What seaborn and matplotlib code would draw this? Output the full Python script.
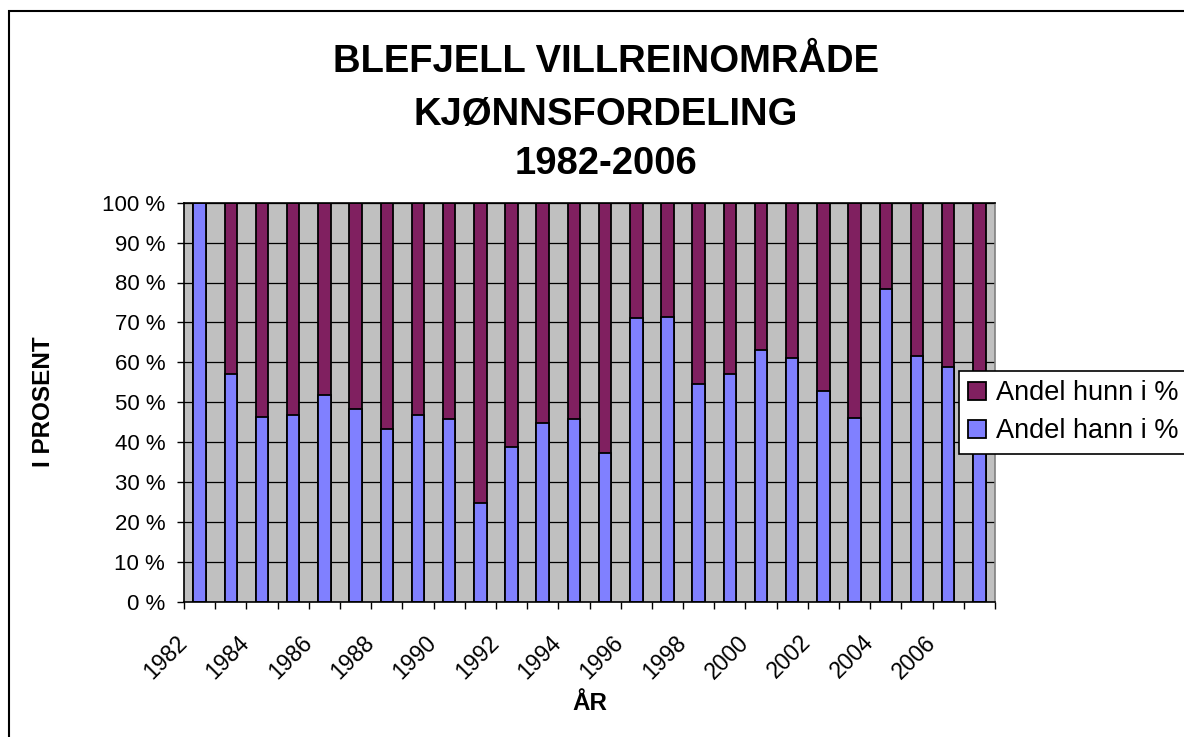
import matplotlib
matplotlib.use("Agg")
import matplotlib.pyplot as plt
import matplotlib.transforms as mtransforms
from matplotlib.patches import Patch, Rectangle
import numpy as np
import seaborn as sns

# data (percent per year)
years = [1982, 1983, 1984, 1985, 1986, 1987, 1988, 1989, 1990, 1991, 1992, 1993, 1994,
         1995, 1996, 1997, 1998, 1999, 2000, 2001, 2002, 2003, 2004, 2005, 2006, 2007]
andel_hann = [100, 57.1, 46.2, 46.7, 51.9, 48.2, 43.2, 46.7, 45.7, 24.8, 38.8, 44.9, 45.7,
              37.3, 71.0, 71.3, 54.6, 57.0, 63.0, 61.1, 52.8, 46.1, 78.4, 61.7, 58.8, 45.0]
andel_hunn = [0, 42.9, 53.8, 53.3, 48.1, 51.8, 56.8, 53.3, 54.3, 75.2, 61.2, 55.1, 54.3,
              62.7, 29.0, 28.7, 45.4, 43.0, 37.0, 38.9, 47.2, 53.9, 21.6, 38.3, 41.2, 55.0]
label_years = [1982, 1984, 1986, 1988, 1990, 1992, 1994, 1996, 1998, 2000, 2002, 2004, 2006]

sns.set_style("white")
plt.rcParams["font.family"] = ["Liberation Sans", "DejaVu Sans"]
plt.rcParams["text.color"] = "black"
plt.rcParams["xtick.color"] = "black"
plt.rcParams["ytick.color"] = "black"
plt.rcParams["axes.labelcolor"] = "black"

BLUE = "#8080FF"
PURPLE = "#802060"

W, H = 1184, 737
fig = plt.figure(figsize=(W / 100, H / 100), dpi=100)
ax = fig.add_axes([184 / W, 1 - 601.7 / H, 811 / W, 399 / H])
ax.set_facecolor("#C0C0C0")

cats = [str(y) for y in years]
totals = np.array(andel_hann) + np.array(andel_hunn)

sns.barplot(x=cats, y=totals, color=PURPLE, saturation=1, width=0.4,
            edgecolor="black", linewidth=1.3, errorbar=None, ax=ax)
sns.barplot(x=cats, y=andel_hann, color=BLUE, saturation=1, width=0.4,
            edgecolor="black", linewidth=1.3, errorbar=None, ax=ax)

ax.set_xlim(-0.5, len(years) - 0.5)
ax.set_ylim(0, 100)
ax.set_xlabel("")
ax.set_ylabel("")

ax.set_axisbelow(True)
ax.yaxis.grid(True, color="black", linewidth=0.9)
ax.set_yticks(np.arange(0, 101, 10))
ax.set_yticklabels([f"{v} %" for v in range(0, 101, 10)])
ax.tick_params(axis="y", direction="out", length=5, width=1, color="black",
               labelsize=16, pad=8.5, left=True, labelcolor="black")

# tick marks between categories, labels on every other category
ax.set_xticks(np.arange(-0.5, len(years), 1), minor=True)
ax.tick_params(axis="x", which="minor", direction="out", length=5, width=1,
               color="black", bottom=True)
label_pos = [years.index(y) for y in label_years]
ax.set_xticks(label_pos)
ax.set_xticklabels([str(y) for y in label_years], rotation=45, ha="right", va="top")
ax.tick_params(axis="x", which="major", length=0, labelsize=16.5, pad=21,
               labelcolor="black")
shift = mtransforms.ScaledTranslation(-8 / 100, 0, fig.dpi_scale_trans)
for lbl in ax.get_xticklabels():
    lbl.set_transform(lbl.get_transform() + shift)

for side in ["left", "bottom", "top"]:
    ax.spines[side].set_color("black")
    ax.spines[side].set_linewidth(1.2)
ax.spines["right"].set_color("#808080")
ax.spines["right"].set_linewidth(1.2)

# titles
fig.text(606 / W, 1 - 62.5 / H, "BLEFJELL VILLREINOMRÅDE", ha="center", va="center",
         fontsize=27.5, fontweight="bold")
fig.text(606 / W, 1 - 115.3 / H, "KJØNNSFORDELING", ha="center", va="center",
         fontsize=27.5, fontweight="bold")
fig.text(606 / W, 1 - 164 / H, "1982-2006", ha="center", va="center",
         fontsize=27.5, fontweight="bold")
fig.text(43.5 / W, 1 - 402 / H, "I PROSENT", ha="center", va="center", rotation=90,
         fontsize=17.5, fontweight="bold")
fig.text(589.5 / W, 1 - 704 / H, "ÅR", ha="center", va="center",
         fontsize=17.5, fontweight="bold")

handles = [Patch(facecolor=PURPLE, edgecolor="black", linewidth=1.3),
           Patch(facecolor=BLUE, edgecolor="black", linewidth=1.3)]
leg = ax.legend(handles, ["Andel hunn i %", "Andel hann i %"], loc="upper left",
                bbox_to_anchor=(958.7 / W, 1 - 370.7 / H), bbox_transform=fig.transFigure,
                borderaxespad=0, fontsize=19.5, frameon=True, fancybox=False, shadow=False,
                framealpha=1, edgecolor="black", handlelength=0.66, handleheight=0.66,
                handletextpad=0.36, labelspacing=0.45, borderpad=0.35)
leg.get_frame().set_linewidth(1.2)

fig.add_artist(Rectangle((9 / W, -0.1), 1.2, 0.1 + (1 - 11 / H), transform=fig.transFigure,
                         fill=False, edgecolor="black", linewidth=1.5))

plt.savefig("out.png", dpi=100)
plt.close()
